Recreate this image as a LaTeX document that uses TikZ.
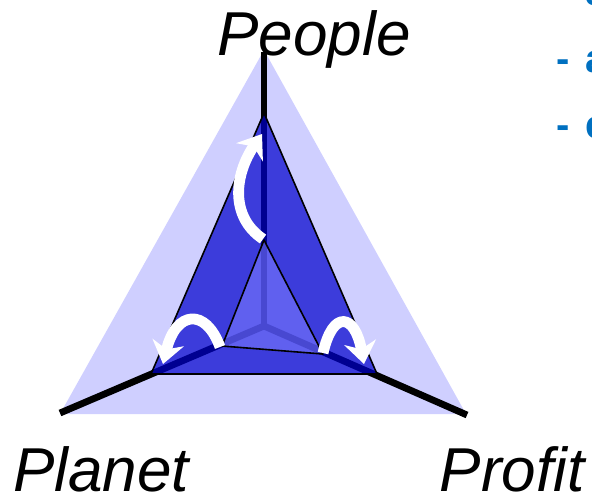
\documentclass[tikz,border=0pt]{standalone}
\usepackage{fontspec}
\setmainfont{Liberation Sans}
\usetikzlibrary{arrows.meta}
\definecolor{paleviolet}{RGB}{207,207,255}
\definecolor{midblue}{RGB}{0,0,205}
\definecolor{innerblue}{RGB}{120,120,253}
\definecolor{listblue}{RGB}{0,112,192}
\tikzset{
  axislabel/.style={font=\fontsize{31}{37}\selectfont\itshape, inner sep=0pt, anchor=base},
  listitem/.style={font=\fontsize{20}{24}\selectfont\bfseries, text=listblue,
                   inner sep=0pt, anchor=base west},
  axisline/.style={line width=3.4pt},
  turnarrow/.style={white, line width=5.4pt,
                    -{Stealth[length=11pt, width=16pt, inset=3.5pt]}},
  edgeline/.style={draw=black, line width=0.8pt, line join=round}
}

\begin{document}
\begin{tikzpicture}[x=0.5pt, y=-0.5pt]
  \useasboundingbox (0,0) rectangle (592,494);
  \clip (0,0) rectangle (592,494);

  % centre and axis ends
  \coordinate (O) at (264,326);
  \coordinate (topend) at (264,52);
  \coordinate (leftend) at (60,413);
  \coordinate (rightend) at (467,415);

  % outer (pale) triangle
  \fill[paleviolet] (264,50) -- (60,414) -- (466,414) -- cycle;

  % axes
  \draw[axisline] (O) -- (topend);
  \draw[axisline] (O) -- (leftend);
  \draw[axisline] (O) -- (rightend);

  % middle triangle
  \coordinate (mtop) at (264,113);
  \coordinate (mleft) at (151,374);
  \coordinate (mright) at (377,374);
  \fill[midblue, fill opacity=0.71] (mtop) -- (mleft) -- (mright) -- cycle;

  % inner triangle
  \coordinate (itop) at (264,240);
  \coordinate (ileft) at (222,346);
  \coordinate (iright) at (323,354);
  \fill[innerblue, fill opacity=0.6] (itop) -- (ileft) -- (iright) -- cycle;

  \draw[edgeline] (mtop) -- (mleft) -- (mright) -- cycle;
  \draw[edgeline] (itop) -- (ileft) -- (iright) -- cycle;

  % white arrows
  \draw[turnarrow] (263,239) .. controls (230,217) and (234,175) .. (262,134);
  \draw[turnarrow] (220,347) .. controls (206,308) and (176,310) .. (163,364);
  \draw[turnarrow] (323,353) .. controls (333,309) and (355,314) .. (364,364);

  % labels
  \node[axislabel] (people) at (314,55) {People};
  \node[axislabel] (planet) at (101,491) {Planet};
  \node[axislabel] (profit) at (512,491) {Profit};

  % list (cut off at the right edge)
  \node[listitem] (item1) at (556,5) {-\hspace{8pt}s};
  \node[listitem] (item2) at (556,72) {-\hspace{8pt}a};
  \node[listitem] (item3) at (556,138) {-\hspace{8pt}e};
\end{tikzpicture}
\end{document}
